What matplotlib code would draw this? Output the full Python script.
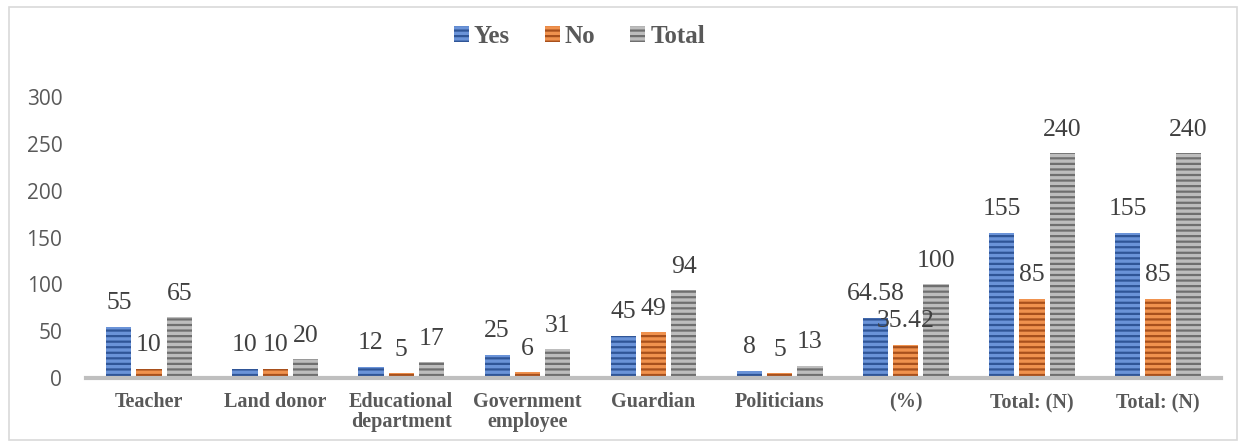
import numpy as np
import matplotlib.pyplot as plt
from matplotlib.patches import Rectangle

# Data
categories = ["Teacher", "Land donor", "Educational\ndepartment", "Government\nemployee",
              "Guardian", "Politicians", "(%)", "Total: (N)", "Total: (N)"]
yes = [55, 10, 12, 25, 45, 8, 64.58, 155, 155]
no = [10, 10, 5, 6, 49, 5, 35.42, 85, 85]
total = [65, 20, 17, 31, 94, 13, 100, 240, 240]
series_names = ["Yes", "No", "Total"]

face_colors = ["#6a93d8", "#f0924e", "#bdbdbd"]
stripe_colors = ["#2f5597", "#a8501c", "#6f6f6f"]

plt.rcParams["hatch.linewidth"] = 1.6

fig = plt.figure(figsize=(12.46, 4.48), dpi=100)
ax = fig.add_axes([0.069, 0.156, 0.911, 0.627])

x = np.arange(len(categories))
width = 0.2
offsets = [-0.24, 0.0, 0.24]
label_font = "Liberation Serif"

for vals, name, fc, sc, off in zip([yes, no, total], series_names,
                                   face_colors, stripe_colors, offsets):
    bars = ax.bar(x + off, vals, width, color=fc, edgecolor=sc, linewidth=0,
                  hatch="---", label=name)
    for b, v in zip(bars, vals):
        txt = f"{v:g}"
        ax.annotate(txt, (b.get_x() + b.get_width() / 2, v), xytext=(0, 9),
                    textcoords="offset points", ha="center", va="bottom",
                    fontsize=18.5, family=label_font, color="#404040")

ax.set_xlim(-0.5, len(categories) - 0.5)
ax.set_ylim(0, 300)
ax.set_yticks(range(0, 301, 50))
ax.set_xticks(x)
ax.set_xticklabels(categories, family=label_font, fontweight="bold",
                   fontsize=14.5, color="#595959", linespacing=1.0)
for lbl in ax.get_yticklabels():
    lbl.set_family("Open Sans")
    lbl.set_fontsize(15)
    lbl.set_color("#595959")
ax.tick_params(axis="x", length=0, pad=10)
ax.tick_params(axis="y", length=0, pad=17)

for s in ["top", "right", "left"]:
    ax.spines[s].set_visible(False)
ax.spines["bottom"].set_color("#bfbfbf")
ax.spines["bottom"].set_linewidth(3)

leg = fig.legend(loc="center", bbox_to_anchor=(0.465, 0.918), ncol=3, frameon=False,
                 prop={"family": label_font, "weight": "bold", "size": 18},
                 handlelength=0.6, handleheight=0.6, handletextpad=0.2,
                 columnspacing=1.4)
for t in leg.get_texts():
    t.set_color("#595959")

# light frame around the chart
fig.patches.append(Rectangle((0.007, 0.018), 0.986, 0.966, transform=fig.transFigure,
                             fill=False, edgecolor="#d9d9d9", linewidth=1.2))

fig.savefig("out.png", dpi=100)
